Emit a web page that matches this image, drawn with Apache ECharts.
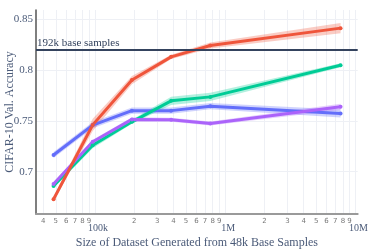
<!DOCTYPE html>
<html><head><meta charset="utf-8">
<script src="https://cdn.jsdelivr.net/npm/echarts@6/dist/echarts.min.js"></script>
<style>html,body{margin:0;padding:0;background:#fff}#c{width:373px;height:249px}</style>
</head><body><div id="c"></div>
<script>
const sizes = [48000, 96000, 192000, 384000, 768000, 7680000];
const redAcc = [0.673, 0.746, 0.790, 0.8128, 0.8240, 0.8410];
const redErr = [0.002, 0.006, 0.004, 0.002, 0.003, 0.005];
const greenAcc = [0.686, 0.726, 0.749, 0.7696, 0.7735, 0.8046];
const greenErr = [0.002, 0.003, 0.002, 0.004, 0.004, 0.002];
const blueAcc = [0.7164, 0.7458, 0.7600, 0.7600, 0.7644, 0.7572];
const blueErr = [0.003, 0.003, 0.003, 0.003, 0.003, 0.004];
const purpleAcc = [0.688, 0.7294, 0.7514, 0.7510, 0.7474, 0.7637];
const purpleErr = [0.002, 0.002, 0.002, 0.002, 0.002, 0.003];
const baseline = 0.8176;
const baselineLabel = '192k base samples';
const yTitle = 'CIFAR-10 Val. Accuracy';
const xTitle = 'Size of Dataset Generated from 48k Base Samples';
const xMin = 35200, xMax = 10400000;
const minorTicks = [40000,50000,60000,70000,80000,90000,200000,300000,400000,500000,600000,700000,800000,900000,2000000,3000000,4000000,5000000,6000000,7000000,8000000,9000000];
const majorTicks = [100000, 1000000, 10000000];
const majorLabels = ['100k', '1M', '10M'];
const yTicks = [0.7, 0.75, 0.8, 0.85];
const yMin = 0.6585, yMax = 0.8588;

const L = v => Math.log10(v);
const allTicks = minorTicks.concat(majorTicks).map(L);
const textColor = '#4a5a78';
const serif = '"Liberation Serif", "DejaVu Serif", serif';

function bandSeries(acc, err, color) {
  return {
    type: 'custom', xAxisIndex: 0, yAxisIndex: 0, silent: true, z: 1,
    encode: {x: 0, y: [1, 2]},
    data: sizes.map((s, i) => [s, acc[i] - err[i], acc[i] + err[i]]),
    renderItem: function (params, api) {
      if (params.dataIndex !== 0) return null;
      const up = sizes.map((s, i) => api.coord([s, acc[i] + err[i]]));
      const lo = sizes.map((s, i) => api.coord([s, acc[i] - err[i]])).reverse();
      return {type: 'polygon', shape: {points: up.concat(lo)}, style: {fill: color, opacity: 0.3}};
    }
  };
}
function lineSeries(acc, color, extra) {
  return Object.assign({
    type: 'line', xAxisIndex: 0, yAxisIndex: 0, z: 3,
    data: sizes.map((s, i) => [s, acc[i]]),
    symbol: 'circle', symbolSize: 4, showSymbol: true,
    itemStyle: {color: color}, lineStyle: {color: color, width: 3}
  }, extra || {});
}

const colors = {blue: '#636efa', red: '#EF553B', green: '#00cc96', purple: '#ab63fa'};

const chart = echarts.init(document.getElementById('c'), null, {renderer: 'canvas'});
chart.setOption({
  animation: false,
  backgroundColor: '#fff',
  grid: {left: 36, right: 15.3, top: 10, bottom: 35, containLabel: false, outerBoundsMode: 'none'},
  graphic: [{
    type: 'text', x: 10, y: 112, rotation: Math.PI / 2, silent: true,
    style: {text: yTitle, fontFamily: serif, fontSize: 12, fill: textColor, align: 'center', verticalAlign: 'middle'}
  }],
  xAxis: [
    {type: 'log', logBase: 10, min: xMin, max: xMax,
     axisLine: {show: true, lineStyle: {color: '#9a9a9a', width: 2}},
     axisTick: {show: false}, axisLabel: {show: false}, splitLine: {show: false},
     name: xTitle, nameLocation: 'middle', nameGap: 23, nameMoveOverlap: false,
     nameTextStyle: {fontFamily: serif, fontSize: 12, color: textColor}},
    {type: 'value', min: L(xMin), max: L(xMax), position: 'bottom',
     axisLine: {show: false},
     axisTick: {show: false, customValues: allTicks},
     splitLine: {show: true, lineStyle: {color: '#eef0f5', width: 1}},
     axisLabel: {customValues: minorTicks.map(L), fontSize: 7, color: '#777', margin: 4,
       fontFamily: '"DejaVu Sans", sans-serif',
       formatter: v => String(Math.round(Math.pow(10, v - Math.floor(v + 1e-9))))}},
    {type: 'value', min: L(xMin), max: L(xMax), position: 'bottom',
     axisLine: {show: false}, axisTick: {show: false, customValues: majorTicks.map(L)}, splitLine: {show: false},
     axisLabel: {customValues: majorTicks.map(L), fontSize: 10, color: textColor, margin: 9,
       fontFamily: serif, padding: [0, 0, 0, 6],
       formatter: v => majorLabels[majorTicks.findIndex(t => Math.abs(L(t) - v) < 1e-6)]}}
  ],
  yAxis: [{
    type: 'value', min: yMin, max: yMax,
    axisLine: {show: true, lineStyle: {color: '#555', width: 1.5}},
    axisTick: {show: false, customValues: yTicks},
    axisLabel: {customValues: yTicks, fontSize: 11, color: textColor, margin: 3, fontFamily: serif,
      formatter: v => String(+v.toFixed(2))},
    splitLine: {show: true, lineStyle: {color: '#eef0f5', width: 1}}
  }],
  series: [
    bandSeries(blueAcc, blueErr, colors.blue),
    bandSeries(greenAcc, greenErr, colors.green),
    bandSeries(purpleAcc, purpleErr, colors.purple),
    bandSeries(redAcc, redErr, colors.red),
    lineSeries(blueAcc, colors.blue, {
      markLine: {silent: true, symbol: 'none', z: 5,
        data: [{yAxis: baseline}],
        lineStyle: {color: '#34435e', width: 2, type: 'solid'},
        label: {show: true, position: 'insideStartTop', formatter: baselineLabel, distance: 1,
          fontFamily: serif, fontSize: 11, color: '#34435e'}}
    }),
    lineSeries(greenAcc, colors.green),
    lineSeries(purpleAcc, colors.purple),
    lineSeries(redAcc, colors.red)
  ]
});
</script>
</body></html>
